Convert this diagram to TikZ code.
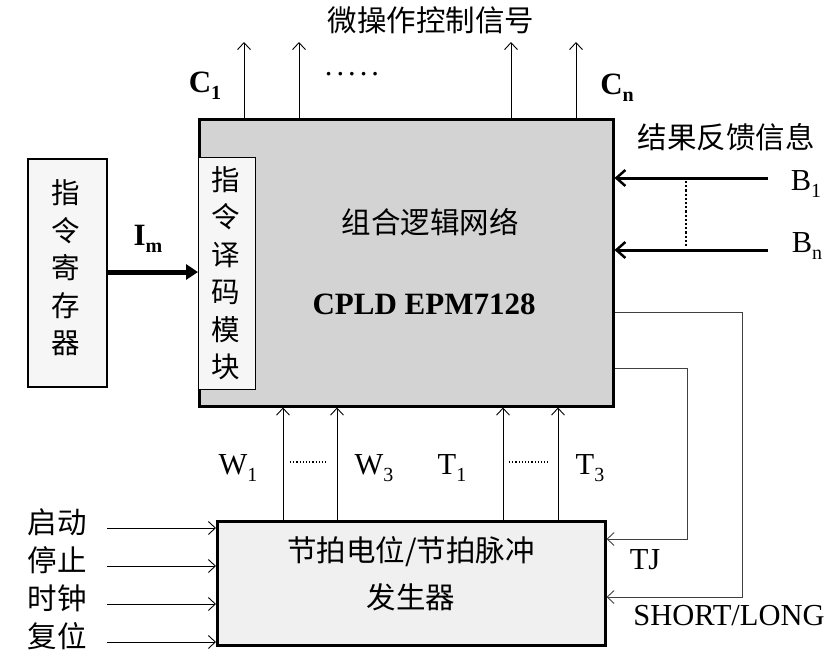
\documentclass[tikz,border=0pt]{standalone}
\usepackage{fontspec}
\setmainfont{Liberation Serif}
\newfontfamily\cjk{Noto Sans CJK SC}
\usetikzlibrary{arrows.meta}
\newcommand\mysb[1]{\raisebox{-7pt}{\fontsize{20}{22}\selectfont #1}}
\begin{document}
\begin{tikzpicture}[x=1pt,y=-1pt,
  box/.style={draw=black, inner sep=0pt, anchor=north west},
  cn/.style={font=\cjk\fontsize{29.5}{32}\selectfont, inner sep=0pt},
  cnstack/.style={font=\cjk\fontsize{28.5}{37.5}\selectfont, inner sep=0pt, align=center},
  lat/.style={font=\fontsize{30.5}{34}\selectfont, inner sep=0pt},
  latb/.style={font=\bfseries\fontsize{31}{34}\selectfont, inner sep=0pt},
  thinarrow/.style={-{Straight Barb[length=7pt,width=13pt]}, line width=0.9pt},
  thickarrow/.style={-{Straight Barb[length=9pt,width=16pt,line width=2.5pt]}, line width=3pt},
  wire/.style={line width=0.9pt, draw=black!75}
]
\useasboundingbox (0,0) rectangle (840,654);
% boxes
\node[box, line width=2.5pt, fill={rgb,255:red,211;green,211;blue,211}, minimum width=414pt, minimum height=287pt] (cpld) at (198,118) {};
\node[box, line width=1pt, fill={rgb,255:red,246;green,246;blue,246}, minimum width=57pt, minimum height=232pt] (dec) at (198,157) {};
\node[box, line width=2pt, fill={rgb,255:red,246;green,246;blue,246}, minimum width=79pt, minimum height=228pt] (ir) at (27,158) {};
\node[box, line width=2.5pt, fill={rgb,255:red,240;green,240;blue,240}, minimum width=388pt, minimum height=124pt] (gen) at (216,520) {};
% box texts
\node[cnstack] (dect) at (226,273) {指\\令\\译\\码\\模\\块};
\node[cnstack] (irt) at (66,268) {指\\令\\寄\\存\\器};
\node[cn] (zh) at (430,222) {组合逻辑网络};
\node[latb] (cp) at (424,304) {CPLD EPM7128};
\node[cn] (gt1) at (411,552) {节拍电位/节拍脉冲};
\node[cn] (gt2) at (411,597) {发生器};
% top
\node[cn] (top) at (431,20) {微操作控制信号};
\node[latb] (c1) at (205,86) {C\mysb{\textbf{1}}};
\node[latb] (cnl) at (617,88) {C\mysb{\textbf{n}}};
\node[lat] (dots) at (352,74) {.\hspace{4pt}.\hspace{4pt}.\hspace{4pt}.\hspace{4pt}.};
\foreach \x/\n in {244/a,299/b,511/c,576/d}{
  \coordinate (t\n) at (\x,42);
  \draw[thinarrow] (cpld.north -| t\n) -- (t\n);
}
% Im
\draw[line width=5pt, -{Triangle[length=12pt,width=15pt]}] (ir.east |- 0,272) -- (dec.west |- 0,272);
\node[latb] (im) at (148,239) {I\mysb{\textbf{m}}};
% feedback B
\node[cn] (fb) at (726,137) {结果反馈信息};
\coordinate (b1s) at (768,178);
\coordinate (bns) at (768,250);
\draw[thickarrow] (b1s) -- (cpld.east |- b1s);
\draw[thickarrow] (bns) -- (cpld.east |- bns);
\draw[line width=2.2pt, dotted] (686,181) -- (686,247);
\node[lat] (b1) at (806,184) {B\mysb{1}};
\node[lat] (bn) at (807,246) {B\mysb{n}};
% W/T arrows
\foreach \x/\n in {283/a,337/b,503/c,558/d}{
  \coordinate (w\n) at (\x,520);
  \draw[thinarrow] (gen.north -| w\n) -- (cpld.south -| w\n);
}
\node[lat] (w1) at (238,468) {W\mysb{1}};
\node[lat] (w3) at (374,468) {W\mysb{3}};
\node[lat] (t1) at (452,468) {T\mysb{1}};
\node[lat] (t3) at (590,468) {T\mysb{3}};
\draw[line width=1.2pt, dotted] (290,462) -- (326,462);
\draw[line width=1.2pt, dotted] (509,462) -- (548,462);
% left inputs
\foreach \t/\y/\n in {启动/522/qd,停止/560/tz,时钟/598/sz,复位/636/fw}{
  \node[cn] (\n) at (57,\y) {\t};
  \coordinate (\n s) at (107,\y+6);
  \draw[thinarrow] (\n s) -- (gen.west |- \n s);
}
% right feedback lines
\coordinate (sl1) at (742,312);
\coordinate (sl2) at (742,597);
\coordinate (tj1) at (687,368);
\coordinate (tj2) at (687,539);
\draw[wire, thinarrow] (cpld.east |- sl1) -- (sl1) -- (sl2) -- (gen.east |- sl2);
\draw[wire, thinarrow] (cpld.east |- tj1) -- (tj1) -- (tj2) -- (gen.east |- tj2);
\node[lat] (tj) at (645,560) {TJ};
\node[lat] (sl) at (729,616) {SHORT/LONG};
\end{tikzpicture}
\end{document}
